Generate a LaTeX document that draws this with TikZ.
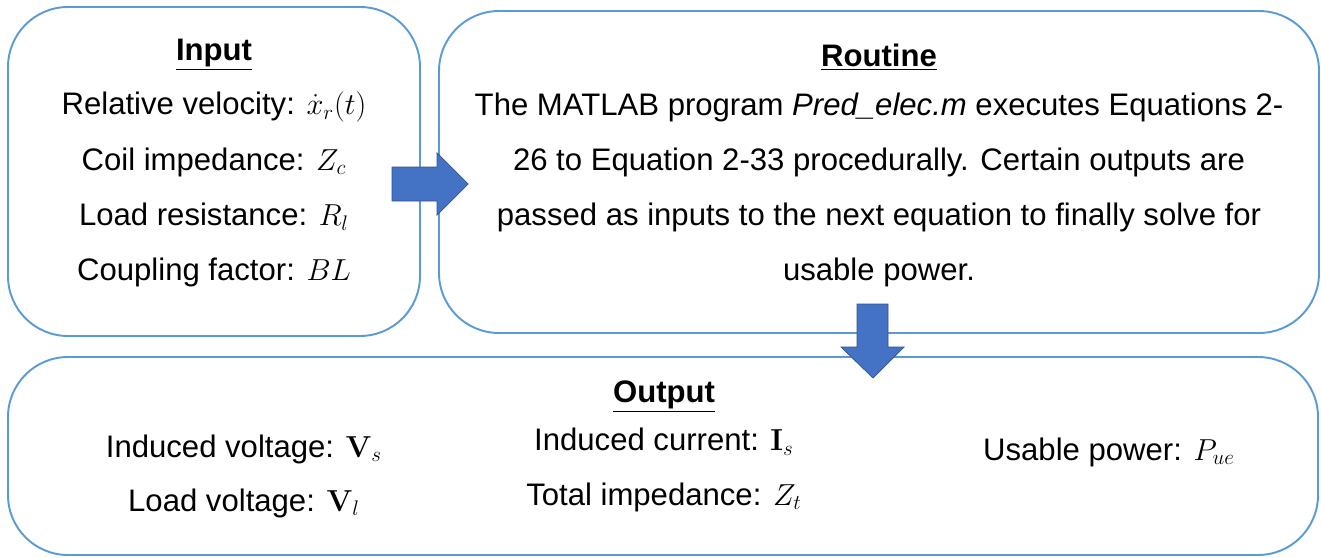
\documentclass[tikz,border=0pt]{standalone}
\usepackage[no-math]{fontspec}
\setmainfont{Liberation Sans}
\usetikzlibrary{positioning}
\definecolor{boxblue}{RGB}{91,155,213}
\definecolor{arrowblue}{RGB}{68,114,196}
\definecolor{arrowedge}{RGB}{47,82,143}
\tikzset{
  panel/.style={draw=boxblue, line width=1.1pt, rounded corners=1.2cm},
  blockarrow/.style={fill=arrowblue, draw=arrowedge, line width=0.4pt},
  head/.style={font=\fontsize{17.7}{22}\selectfont\bfseries},
  item/.style={font=\fontsize{17.7}{22}\selectfont, inner sep=0pt}
}

\begin{document}
\begin{tikzpicture}[x=0.2mm, y=-0.2mm]
		%%%%% START %%%%%
		\useasboundingbox (0, 0) rectangle (1321, 558);
		
		% three panels
		\draw[panel] (8, 7) rectangle (420, 336);
		\draw[panel] (439, 11) rectangle (1319, 333);
		\draw[panel] (8, 357) rectangle (1318, 555);
		
		% input panel
		\node[head] (inhead) at (214, 55) {\underline{Input}};
		\node[item] (invel) at (214, 107) {Relative velocity: $\dot{x}_r(t)$};
		\node[item] (incoil) at (214, 162) {Coil impedance: $Z_c$};
		\node[item] (inload) at (214, 217) {Load resistance: $R_l$};
		\node[item] (incoup) at (214, 272) {Coupling factor: $BL$};
		
		% routine panel
		\node[head] (rthead) at (879, 57) {\underline{Routine}};
		\node[item, align=center, font=\fontsize{17.7}{31.3}\selectfont] (rttext) at (879, 190)
			{The MATLAB program \textit{Pred\_elec.m} executes Equations 2-\\
			 26 to Equation 2-33 procedurally. Certain outputs are\\
			 passed as inputs to the next equation to finally solve for\\
			 usable power.};
		
		% output panel
		\node[head] (outhead) at (664, 397) {\underline{Output}};
		\node[item] (outvs) at (244, 449) {Induced voltage: $\mathbf{V}_s$};
		\node[item] (outvl) at (244, 503) {Load voltage: $\mathbf{V}_l$};
		\node[item] (outis) at (664, 442) {Induced current: $\mathbf{I}_s$};
		\node[item] (outzt) at (664, 497) {Total impedance: $Z_t$};
		\node[item] (outpue) at (1109, 452) {Usable power: $P_{ue}$};
		
		% block arrows
		\draw[blockarrow] (392, 167) -- (437, 167) -- (437, 153) -- (468, 184)
			-- (437, 215) -- (437, 201) -- (392, 201) -- cycle;
		\draw[blockarrow] (857, 304) -- (888, 304) -- (888, 347) -- (904, 347)
			-- (873, 378) -- (841, 347) -- (857, 347) -- cycle;
		
		%%%%% END %%%%%
	\end{tikzpicture}
\end{document}
